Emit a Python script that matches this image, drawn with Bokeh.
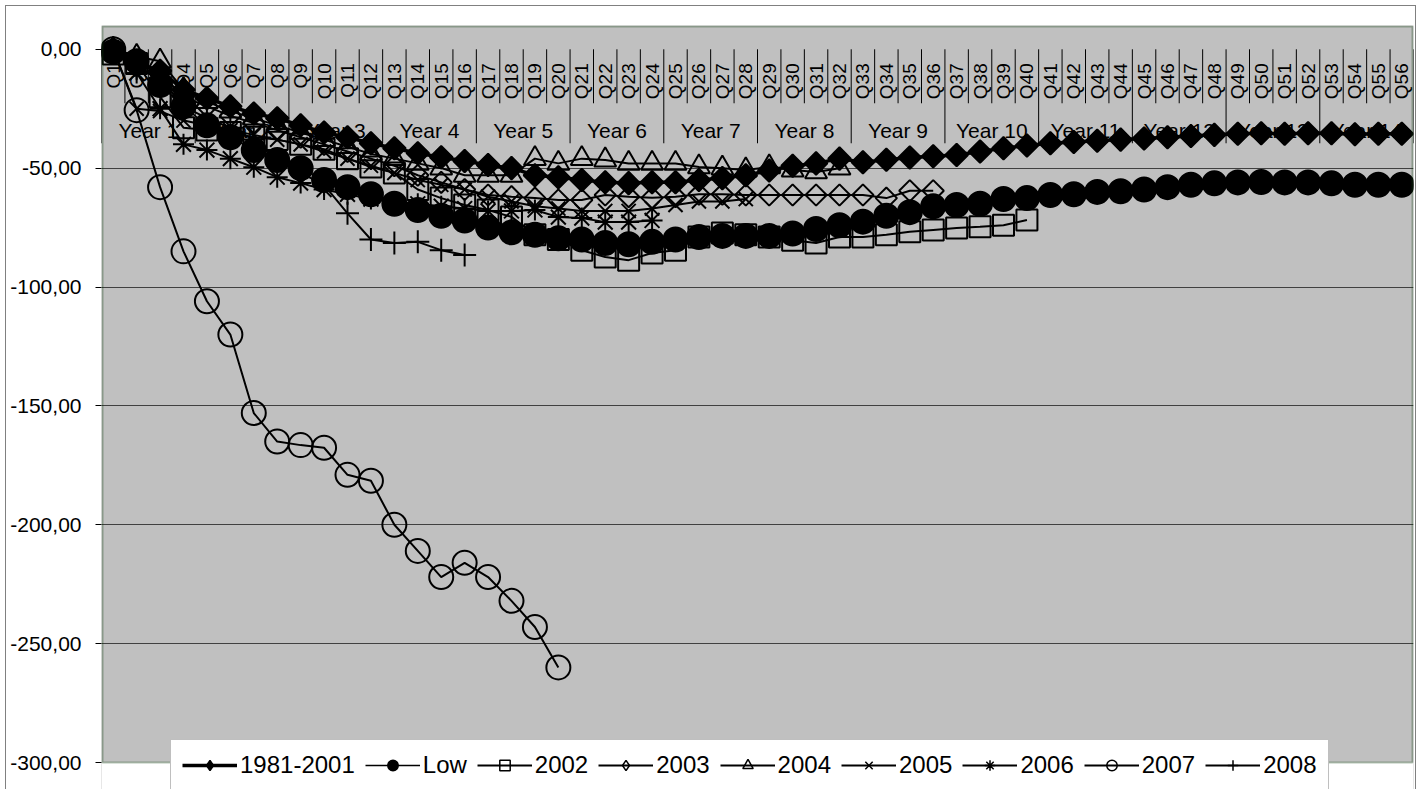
import math
from bokeh.plotting import figure
from bokeh.models import Range1d, FixedTicker, Legend, LegendItem, BoxAnnotation, CustomJSTickFormatter
from bokeh.embed import file_html
from bokeh.resources import INLINE
from bokeh.core.properties import value

# ---------------- data ----------------
quarters = [f"Q{i}" for i in range(1, 57)]
years = [f"Year {i}" for i in range(1, 15)]

s_1981_2001 = [-1, -6, -9, -17, -20.6, -24, -27, -29, -32, -35,
               -37, -39.5, -41.6, -43.7, -45.4, -47, -48.7, -50, -53, -53.8,
               -55, -55.9, -56.3, -55.9, -55.9, -55, -54.2, -53, -51, -49,
               -48, -46, -47.5, -46.5, -45.5, -45, -44.5, -43, -41.6, -40.5,
               -39.5, -39, -38.5, -38, -37.5, -37, -36.5, -36, -35.5, -35.3,
               -35.5, -35.3, -35.3, -35.7, -35.5, -35.5]
s_low = [-1, -5, -15, -24, -32, -37, -42.4, -46.6, -50, -55,
         -58, -61, -65, -67.6, -70, -72, -75, -77, -78, -79.5,
         -80, -81.5, -82, -81, -80, -79, -78.5, -78.5, -78.5, -77.5,
         -75.6, -74, -72.5, -70, -68.5, -66, -65.5, -65, -63, -62.6,
         -61.3, -61, -60, -59.7, -59, -58, -57, -56.4, -56, -55.8,
         -56, -56, -56.4, -57, -57, -57]
s_2002 = [-2, -6, -20, -33, -34, -35, -37, -38, -40, -42,
          -46, -49.5, -52, -59, -62.6, -65.5, -67.6, -70.5, -78, -80,
          -84.5, -87.4, -88.7, -85.7, -84.5, -79, -77.3, -78, -79, -80.3,
          -81.5, -79, -79, -78, -76.8, -76, -75.2, -74.7, -74, -71.8]
s_2003 = [0, -5, -10, -20, -24, -28, -31, -34, -37, -40,
          -43, -46, -49, -53, -56, -59, -61.3, -62, -62.6, -63.4,
          -63.4, -61.3, -62, -62.5, -62, -61, -61, -61.3, -61.3, -61.3,
          -61.3, -61.3, -61.3, -62.6, -59.5, -59.5]
s_2004 = [0, -3, -5, -17, -22, -26, -29, -32, -35, -38,
          -41, -44, -46, -48, -50, -53, -53, -53, -46, -48,
          -46, -46.6, -48, -48, -48, -49.5, -50, -50.8, -49.5, -50.8,
          -51.6, -50]
s_2005 = [0, -25, -26, -30, -32, -34, -36, -38, -40, -43,
          -46, -49, -52, -55, -57, -59, -62, -64, -66, -67,
          -68, -68, -68, -67, -65.5, -64, -64, -63]
s_2006 = [0, -10, -25, -40, -42.4, -46, -49.6, -53.8, -56.3, -59,
          -61, -63, -64, -65, -66, -67, -68, -68, -67.6, -70.6,
          -71, -72.7, -72.7, -72]
s_2007 = [0, -25.6, -58, -85, -106, -120, -153, -165, -166.5, -167.6,
          -179, -181.5, -200, -211, -222, -216, -222, -232, -243, -260]
s_2008 = [0, -8, -12, -24, -29, -33, -38, -47, -52, -57,
          -69, -80, -81.5, -81, -84.5, -86.5]

series_names = ["1981-2001", "Low", "2002", "2003", "2004", "2005", "2006", "2007", "2008"]
series_values = [s_1981_2001, s_low, s_2002, s_2003, s_2004, s_2005, s_2006, s_2007, s_2008]

y_ticks = [0, -50, -100, -150, -200, -250, -300]
grid_ticks = [-50, -100, -150, -200, -250]
y_top, y_bottom = 10, -300

# ---------------- geometry / styles ----------------
FONT = "Liberation Sans"
W, H = 1422, 789
F_LEFT, F_RIGHT, F_TOP, F_BOTTOM = 101, 1413, 25, 762   # plot area in pixels
upp = (y_top - y_bottom) / (F_BOTTOM - F_TOP)           # data units per pixel
xpp = 56 / (F_RIGHT - F_LEFT)
y_start = y_bottom - (H - F_BOTTOM) * upp               # frame runs to canvas bottom

styles = [
    dict(marker="square", size=16, fill="black", angle=math.pi / 4, lw=3.5, leg="diamond"),
    dict(marker="circle", size=24, fill="black", angle=0, lw=1.5, leg="circle"),
    dict(marker="square", size=21, fill=None, angle=0, lw=2, leg="square"),
    dict(marker="square", size=15, fill=None, angle=math.pi / 4, lw=2, leg="diamond"),
    dict(marker="triangle", size=22, fill=None, angle=0, lw=2, leg="triangle"),
    dict(marker="x", size=20, fill=None, angle=0, lw=2, leg="x"),
    dict(marker="asterisk", size=21, fill=None, angle=0, lw=2, leg="asterisk"),
    dict(marker="circle", size=24, fill=None, angle=0, lw=2, leg="circle"),
    dict(marker="cross", size=23, fill=None, angle=0, lw=2, leg="cross"),
]

p = figure(width=W, height=H,
           x_range=Range1d(0, len(quarters)), y_range=Range1d(y_start, y_top),
           output_backend="svg", toolbar_location=None,
           min_border_left=F_LEFT, min_border_right=W - F_RIGHT,
           min_border_top=F_TOP, min_border_bottom=0)
p.background_fill_color = "#C0C0C0"
p.border_fill_color = "white"
p.border_fill_alpha = 0
p.outline_line_color = None
p.styles = {
    "background": ("linear-gradient(#808080,#808080) 5px 5px / 1px 100% no-repeat, "
                   "linear-gradient(#808080,#808080) 5px 5px / 1411px 1px no-repeat, "
                   "linear-gradient(#808080,#808080) 1415px 5px / 1px 100% no-repeat, white"),
}

p.xaxis.visible = False
p.xgrid.visible = False
p.ygrid.ticker = FixedTicker(ticks=grid_ticks)
p.ygrid.grid_line_color = "#404040"
p.ygrid.grid_line_width = 1

ax = p.yaxis[0]
ax.ticker = FixedTicker(ticks=y_ticks)
ax.formatter = CustomJSTickFormatter(code="return tick.toFixed(2).replace('.', ',');")
ax.axis_line_color = None
ax.major_tick_line_color = "black"
ax.major_tick_out = 6
ax.major_tick_in = 0
ax.minor_tick_line_color = None
ax.major_label_standoff = 14
ax.major_label_text_font = FONT
ax.major_label_text_font_size = "21px"
ax.major_label_text_color = "black"

# white area under the plot area (frame extends to canvas bottom for the legend)
p.add_layout(BoxAnnotation(top=y_bottom, fill_color="white", fill_alpha=1,
                           line_color=None, level="underlay"))

# ---------------- category axis drawn at y = 0 ----------------
n_q = len(quarters)
bounds = list(range(n_q + 1))
tick_len = [(-94 * upp if b % 4 == 0 else -54 * upp) for b in bounds]
p.segment(x0=bounds, y0=[0] * len(bounds), x1=bounds, y1=tick_len,
          line_color="black", line_width=1)
p.text(x=[i + 0.5 for i in range(n_q)], y=[0] * n_q, text=quarters,
       angle=math.pi / 2, text_align="right", text_baseline="middle",
       y_offset=14, text_font=value(FONT), text_font_size="19px",
       text_color="black")
p.text(x=[4 * j + 2 for j in range(len(years))], y=[0] * len(years), text=years,
       text_align="center", text_baseline="middle", y_offset=81,
       text_font=value(FONT), text_font_size="21px", text_color="black")

# ---------------- series ----------------
items = []
for name, vals, st in zip(series_names, series_values, styles):
    xs = [i + 0.5 for i in range(len(vals))]
    lr = p.line(xs, vals, line_color="black", line_width=st["lw"])
    sr = p.scatter(xs, vals, marker=st["marker"], size=st["size"],
                   angle=st["angle"], line_color="black", line_width=2,
                   fill_color=st["fill"], fill_alpha=1 if st["fill"] else 0)
    # legend-only marker (no visible point), so diamonds show as diamonds in the key
    lg = p.scatter([float("nan")], [float("nan")], marker=st["leg"], size=10,
                   line_color="black", line_width=1.5,
                   fill_color=st["fill"], fill_alpha=1 if st["fill"] else 0)
    items.append(LegendItem(label=name, renderers=[lr, lg]))

# dark green plot-area border
p.add_layout(BoxAnnotation(left=1 * xpp, right=56 - 1 * xpp,
                           top=y_top - 1 * upp, bottom=y_bottom,
                           fill_alpha=0, fill_color=None,
                           line_color="#0B3B0B", line_width=2, level="overlay"))

legend = Legend(items=items, orientation="horizontal", location=(69, -2),
                label_text_font=FONT, label_text_font_size="24px",
                label_text_color="black",
                glyph_width=55, glyph_height=26, label_standoff=3,
                spacing=10, padding=11, margin=0,
                border_line_color="#808080", border_line_width=1,
                background_fill_color="white", background_fill_alpha=1)
p.add_layout(legend)

open("out.html", "w").write(file_html(p, INLINE))
